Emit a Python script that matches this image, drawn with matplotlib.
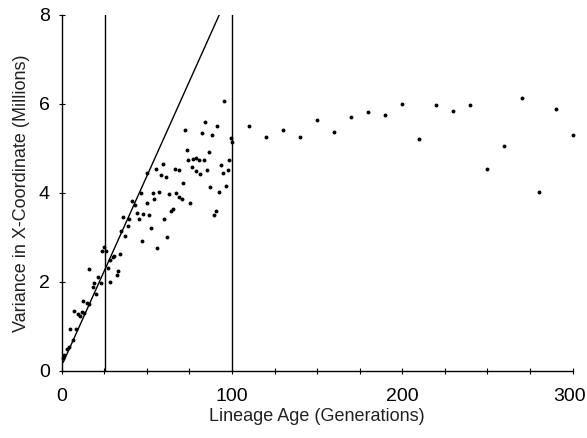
import matplotlib
matplotlib.use("Agg")
import matplotlib.pyplot as plt
from matplotlib.transforms import ScaledTranslation

plt.rcParams['font.family'] = ['Liberation Sans', 'DejaVu Sans']

# lineage age (generations) and variance in x-coordinate (millions)
age = [0.6, 1.4, 3.3, 4.5, 6.4, 4.9, 8.4, 7.2, 9.8, 10.7, 11.7, 13.1, 12.3, 14.7,
       16.2, 18.2, 20.1, 19.2, 22.9, 21.1, 16.2, 27.0, 28.4, 28.4, 29.9, 30.9,
       33.3, 32.3, 34.2, 24.8, 23.8, 26.0, 34.8, 37.2, 47.0, 56.1,
       36.2, 39.7, 38.9, 41.3, 42.9, 44.0, 47.9, 51.4, 45.2, 52.3, 60.1, 62.0,
       46.4, 49.9, 53.4, 54.4, 57.3, 49.9, 55.4, 59.3, 58.1, 61.2, 63.2, 65.2,
       64.4, 66.7, 68.7, 67.1, 68.7, 70.5, 71.4, 72.4, 73.4, 74.3, 75.2, 76.3,
       76.9, 78.9, 78.7, 80.8, 81.4, 82.4, 83.4, 84.3, 85.5, 86.3, 87.3, 88.4,
       89.4, 90.6, 91.4, 92.4, 93.4, 94.5, 95.3, 96.5, 97.5, 98.2, 99.4, 100.2,
       110, 120, 130, 140, 150, 160, 170, 180, 190, 200,
       210, 220, 230, 240, 250, 260, 270, 280, 290, 300]
variance = [0.29, 0.36, 0.49, 0.55, 0.70, 0.94, 0.95, 1.35, 1.28, 1.24, 1.33, 1.31, 1.57, 1.52,
            1.51, 1.89, 1.73, 1.97, 1.97, 2.11, 2.29, 2.32, 2.01, 2.49, 2.57, 2.59,
            2.25, 2.15, 2.64, 2.79, 2.70, 2.70, 3.15, 3.03, 2.93, 2.76,
            3.45, 3.42, 3.26, 3.83, 3.74, 3.54, 3.53, 3.51, 3.41, 3.21, 3.41, 3.02,
            4.01, 3.77, 3.99, 3.86, 4.02, 4.46, 4.53, 4.65, 4.40, 4.35, 3.98, 3.63,
            3.59, 4.55, 4.52, 3.99, 3.90, 3.87, 4.22, 5.42, 4.96, 4.73, 3.78, 4.58,
            4.76, 4.79, 4.49, 4.73, 4.42, 5.34, 4.74, 5.60, 4.52, 4.91, 4.13, 5.30,
            3.51, 3.59, 5.51, 4.02, 4.63, 4.46, 6.07, 4.15, 4.51, 4.73, 5.24, 5.14,
            5.51, 5.25, 5.42, 5.25, 5.65, 5.37, 5.71, 5.83, 5.75, 6.01,
            5.22, 5.97, 5.85, 5.98, 4.55, 5.05, 6.14, 4.03, 5.88, 5.30]

fit_x = [1, 92.5]
fit_y = [0.2, 8]
cutoffs = [25.4, 100]

fig = plt.figure(figsize=(5.87, 4.38), dpi=100)
ax = fig.add_axes([0.105, 0.153, 0.8705, 0.8128])

ax.plot(age, variance, 'o', color='black', ms=2.8, mew=0, clip_on=False)
ax.plot(fit_x, fit_y, color='black', lw=1.0)
for c in cutoffs:
    ax.axvline(c, color='black', lw=1.0)

ax.set_xlim(0, 300)
ax.set_ylim(0, 8)
ax.set_xticks([0, 100, 200, 300])
ax.set_xticks(range(0, 301, 25), minor=True)
ax.set_yticks([0, 2, 4, 6, 8])
ax.tick_params(axis='both', which='both', direction='inout', length=5, width=0.8,
               labelsize=14, colors='black')
ax.tick_params(axis='x', pad=10)
ax.tick_params(axis='y', pad=6)

# nudge the last x label so it stays inside the figure
last = ax.get_xticklabels()[-1]
last.set_transform(last.get_transform() + ScaledTranslation(-3 / 100, 0, fig.dpi_scale_trans))

for s in ['top', 'right']:
    ax.spines[s].set_visible(False)
for s in ['left', 'bottom']:
    ax.spines[s].set_linewidth(1.0)

ax.set_xlabel('Lineage Age (Generations)', fontsize=13, color='#222222', labelpad=2)
ax.set_ylabel('Variance in X-Coordinate (Millions)', fontsize=13, color='#222222', labelpad=6)

fig.savefig('out.png', dpi=100)
